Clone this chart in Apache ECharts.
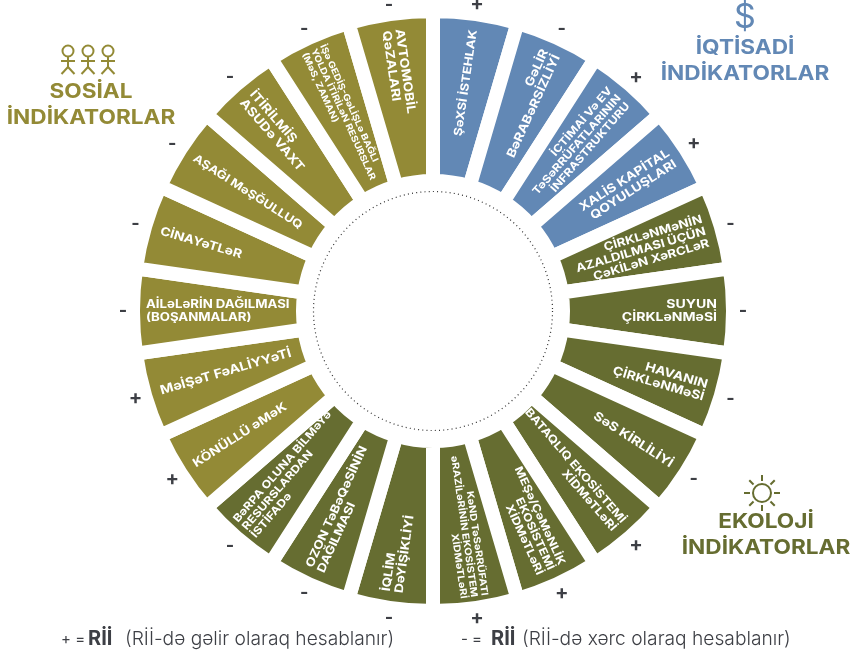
<!DOCTYPE html>
<html><head><meta charset="utf-8">
<style>html,body{margin:0;padding:0;background:#fff}#c{width:857px;height:650px}</style>
<script src="https://cdn.jsdelivr.net/npm/echarts@6/dist/echarts.min.js"></script>
</head><body><div id="c"></div>
<script>
const categories = [
 "ŞəXSİ İSTEHLAK","GəLİR\nBəRABəRSİZLİYİ","İCTİMAİ Və EV\nTəSəRRÜFATLARININ\nİNFRASTRUKTURU","XALİS KAPİTAL\nQOYULUŞLARI",
 "ÇİRKLəNMəNİN\nAZALDILMASI ÜÇÜN\nÇəKİLəN XəRCLəR","SUYUN\nÇİRKLəNMəSİ","HAVANIN\nÇİRKLəNMəSİ","SəS KİRLİLİYİ",
 "BATAQLIQ EKOSİSTEMİ\nXİDMəTLəRİ","MEŞə/ÇəMəNLİK\nEKOSİSTEMİ\nXİDMəTLəRİ","KəND TəSəRRÜFATI\nəRAZİLəRİNİN EKOSİSTEM\nXİDMəTLəRİ",
 "İQLİM\nDəYİŞİKLİYİ","OZON TəBəQəSİNİN\nDAĞILMASI","BəRPA OLUNA BİLMəYə\nRESURSLARDAN\nİSTİFADə",
 "KÖNÜLLÜ əMəK","MəİŞəT FəALİYYəTİ","AİLəLəRİN DAĞILMASI\n(BOŞANMALAR)","CİNAYəTLəR","AŞAĞI MəŞĞULLUQ",
 "İTİRİLMİŞ\nASUDə VAXT","İŞə GEDİŞ-GəLİŞLə BAĞLI\nYOLDA İTİRİLəN RESURSLAR\n(MəS, ZAMAN)","AVTOMOBİL\nQəZALARI"
];
const signs = ["+","-","+","+","-","-","-","-","+","+","+","-","-","-","+","+","-","-","-","-","-","-"];
const groups = ["eco","eco","eco","eco","env","env","env","env","env","env","env","env","env","env","soc","soc","soc","soc","soc","soc","soc","soc"];
const shares = [1,1,1,1,1,1,1,1,1,1,1,1,1,1,1,1,1,1,1,1,1,1];
const groupTitles = {eco:"İQTİSADİ\nİNDİKATORLAR",env:"EKOLOJİ\nİNDİKATORLAR",soc:"SOSİAL\nİNDİKATORLAR"};
const legendPlus = "(Rİİ-də gəlir olaraq hesablanır)";
const legendMinus = "(Rİİ-də xərc olaraq hesablanır)";

const colors = {eco:"#6288b5",env:"#666d31",soc:"#938a36"};
const FONT = "Inter";
const labelSizes = [11.4,12,10.7,12,11.5,12.1,12,12.2,11.2,11,9.5,11.8,11.7,10.8,11.9,12.4,11.4,11.9,11.4,12.2,8.9,12.2];
const labelRadii = [284,284,284,284,284,284,284,284,284,284,289,284,284,288,284,284,287,284,284,284,288,284];
const labelStretch = 1.16, titleStretch = 1.13;
const cx=433, cy=311, outer=293, inner=137, gap=14, signR=310;

const chart = echarts.init(document.getElementById('c'));
function centerText(x,y,text,color,size,weight){
  return {type:'text',x,y,z:5,scaleX:titleStretch,style:{text,fill:color,font:`${weight} ${size}px ${FONT}`,textAlign:'center',textVerticalAlign:'middle',lineHeight:26}};
}
const peopleEls=[68,88,108].flatMap(x=>{
  const st={stroke:colors.soc,lineWidth:2,fill:'none'};
  return [
   {type:'circle',shape:{cx:x,cy:51,r:5.5},style:st},
   {type:'line',shape:{x1:x,y1:57,x2:x,y2:67},style:st},
   {type:'line',shape:{x1:x-7,y1:61,x2:x+7,y2:61},style:st},
   {type:'line',shape:{x1:x,y1:67,x2:x-6.5,y2:74},style:st},
   {type:'line',shape:{x1:x,y1:67,x2:x+6.5,y2:74},style:st}
  ];
});
const sunCx=762,sunCy=493;
const sunEls=[{type:'circle',shape:{cx:sunCx,cy:sunCy,r:9},style:{stroke:colors.env,lineWidth:2,fill:'none'}}]
 .concat([0,1,2,3,4,5,6,7].map(k=>{
   const t=k*Math.PI/4;
   return {type:'line',shape:{x1:sunCx+12*Math.cos(t),y1:sunCy+12*Math.sin(t),x2:sunCx+18*Math.cos(t),y2:sunCy+18*Math.sin(t)},
     style:{stroke:colors.env,lineWidth:2}};
 }));

function renderLabel(params,api){
  const i=api.value(1);
  const p=api.coord([api.value(0),i]);
  const a=(i+0.5)*360/categories.length;
  const right=a<180;
  const deg=right?90-a:270-a;
  return {type:'text',x:p[0],y:p[1],rotation:deg*Math.PI/180,scaleX:labelStretch,z2:10,
    style:{text:categories[i],fill:'#fff',font:`700 ${labelSizes[i]}px ${FONT}`,
      textAlign:right?'right':'left',textVerticalAlign:'middle',lineHeight:labelSizes[i]+1}};
}
function renderSign(params,api){
  const i=api.value(1);
  const p=api.coord([api.value(0),i]);
  const s=signs[i];
  return {type:'text',x:p[0],y:p[1],z2:10,
    style:{text:s,fill:'#3d3f45',font:`700 ${s==='+'?20:18}px ${FONT}`,textAlign:'center',textVerticalAlign:'middle'}};
}

const legendFont=19.2, legendY=639, legendColor='#3d3f45';
function legendText(x,text,weight,size){
  return {type:'text',x,y:legendY,style:{text,fill:legendColor,font:`${weight} ${size}px ${FONT}`,textVerticalAlign:'middle'}};
}

chart.setOption({
  animation:false,
  backgroundColor:'#fff',
  polar:{center:[cx,cy],radius:320},
  angleAxis:{type:'category',data:categories,startAngle:90,show:false},
  radiusAxis:{min:0,max:320,show:false},
  series:[
   {type:'pie',center:[cx,cy],radius:[inner-gap/2,outer+gap/2],startAngle:90,clockwise:true,silent:true,
    label:{show:false},labelLine:{show:false},
    itemStyle:{borderColor:'#fff',borderWidth:gap,borderJoin:'miter'},
    emphasis:{disabled:true},
    data:categories.map((c,i)=>({name:c,value:shares[i],itemStyle:{color:colors[groups[i]]}}))},
   {type:'custom',coordinateSystem:'polar',silent:true,renderItem:renderLabel,
    encode:{radius:0,angle:1},data:categories.map((c,i)=>[labelRadii[i],i]),z:5},
   {type:'custom',coordinateSystem:'polar',silent:true,renderItem:renderSign,
    encode:{radius:0,angle:1},data:signs.map((c,i)=>[signR,i]),z:5}
  ],
  graphic:[
   {type:'circle',shape:{cx,cy,r:119.5},style:{fill:'none',stroke:'#333',lineWidth:1.2,lineDash:[1,3.2]},z:1},
   centerText(91,104.5,groupTitles.soc,colors.soc,20,700),
   centerText(745,61,groupTitles.eco,colors.eco,20,700),
   centerText(766,534.5,groupTitles.env,colors.env,20,700),
   {type:'text',x:745,y:18,style:{text:'$',fill:colors.eco,font:`400 34px ${FONT}`,textAlign:'center',textVerticalAlign:'middle'}},
   ...peopleEls,...sunEls,
   legendText(61,'+ =',400,15),
   legendText(88,'Rİİ',700,20),
   legendText(125,legendPlus,300,legendFont),
   legendText(461,'- =',400,15),
   legendText(491,'Rİİ',700,20),
   legendText(522,legendMinus,300,legendFont)
  ]
});
</script></body></html>
